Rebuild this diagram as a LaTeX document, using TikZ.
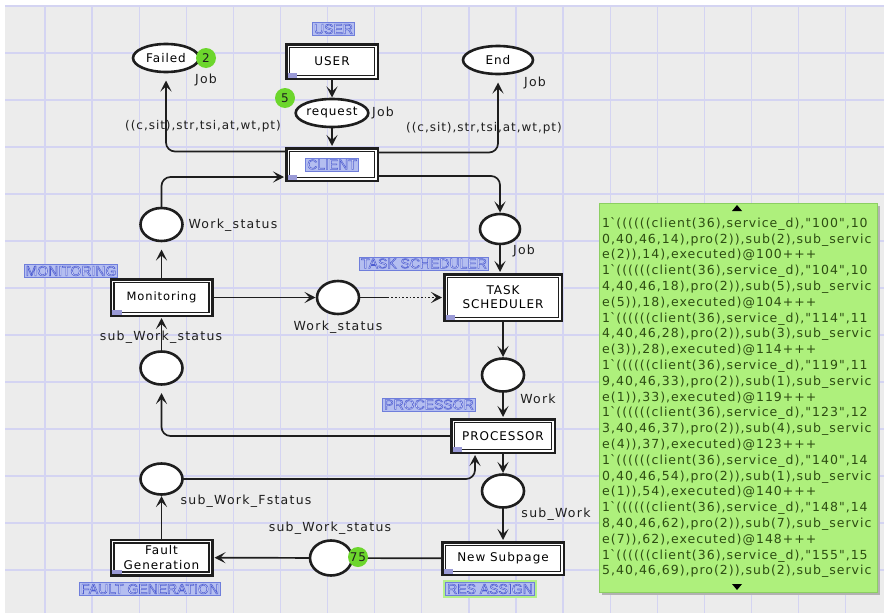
\documentclass[tikz,border=0pt]{standalone}
\usepackage{fontspec}
\usetikzlibrary{shapes.geometric,arrows.meta,calc}
\newfontfamily\cpnfont{DejaVu Sans}[LetterSpace=8]
\newfontfamily\cpnwide{DejaVu Sans}[LetterSpace=10]
\newfontfamily\tagfont{Liberation Sans}
\definecolor{bgc}{HTML}{ECECEC}
\definecolor{gridc}{HTML}{D4D4F2}
\definecolor{tagfill}{HTML}{B4BEF0}
\definecolor{tagdraw}{HTML}{6F7EDB}
\definecolor{tagtext}{HTML}{4B5BD2}
\definecolor{tabc}{HTML}{9A9AD6}
\definecolor{tokc}{HTML}{6CD62C}
\definecolor{listc}{HTML}{AEF07C}
\definecolor{listdraw}{HTML}{8CCF62}
\definecolor{listtext}{HTML}{2D4D12}
\definecolor{glowc}{HTML}{B4F08A}
\definecolor{inkc}{HTML}{1E1E1E}

% outlined tag lettering: light fill, blue stroke
\newcommand\hollowtext[1]{\textcolor{white!85!tagfill}{\special{pdf:literal direct 0.30 0.36 0.82 RG 2 Tr 0.55 w}#1\special{pdf:literal direct 0 Tr}}}

\tikzset{
  cpn/.style={font=\cpnfont\fontsize{12}{14}\selectfont},
  place/.style={ellipse, draw=inkc, line width=2.6pt, fill=white,
    minimum width=42pt, minimum height=33pt, inner sep=0pt, outer sep=0.5pt, cpn},
  trans/.style={rectangle, draw=inkc, line width=1.3pt, fill=white,
    inner sep=0pt, outer sep=4.5pt, align=center, cpn,
    preaction={draw=inkc, line width=9pt},
    preaction={draw=white, line width=4pt}},
  tag/.style={rectangle, draw=tagdraw, line width=0.8pt, fill=tagfill,
    font=\tagfont\fontsize{14}{14}\selectfont, inner xsep=1.5pt, inner ysep=1.5pt},
  token/.style={circle, fill=tokc, minimum size=20pt, inner sep=0pt, cpn, text=inkc},
  lbl/.style={font=\cpnwide\fontsize{12.5}{14}\selectfont, text=inkc, inner sep=0pt},
  expr/.style={cpn, text=inkc, inner sep=0pt},
  arc/.style={draw=inkc, line width=1.7pt, rounded corners=9pt,
    -{Stealth[length=11pt,width=11pt,inset=5pt]}, shorten >=1pt},
  gap/.style={shorten >=8pt},
  plain/.style={draw=inkc, line width=1.7pt},
}

\begin{document}
\begin{tikzpicture}[x=1pt,y=-1pt]
\useasboundingbox (0,0) rectangle (884,613);

% canvas and grid
\fill[white] (0,0) rectangle (884,613);
\fill[bgc] (5,5) rectangle (884,613);
\foreach \i in {0,...,17}
  \draw[gridc, line width=1.3pt] ({45+47.1*\i},5) -- ({45+47.1*\i},613);
\foreach \j in {0,...,12}
  \draw[gridc, line width=1.3pt] (5,{6+47*\j}) -- (884,{6+47*\j});

% places
\node[place, minimum width=66pt, minimum height=28pt] (failed) at (166,58) {Failed};
\node[place, minimum width=70pt, minimum height=28pt] (endp) at (498,60) {End};
\node[place, minimum width=69pt, minimum height=28pt] (request) at (332,113) {request};
\node[place] (ws1) at (161.5,224.5) {};
\node[place] (mid) at (338,297.5) {};
\node[place, minimum width=40pt, minimum height=30pt] (job) at (500,229) {};
\node[place] (work) at (503,375) {};
\node[place] (subwork) at (503,491) {};
\node[place, minimum height=35pt] (sws2) at (331,558) {};
\node[place, minimum height=31pt] (swf) at (161.5,479) {};
\node[place] (sws1) at (161.5,368) {};

% substitution transitions
\node[trans, minimum width=85pt, minimum height=28pt] (user) at (332,61.5) {USER};
\node[trans, minimum width=85pt, minimum height=26pt] (client) at (332,164.5) {};
\node[trans, minimum width=95pt, minimum height=30pt, font=\cpnfont\fontsize{11.5}{13}\selectfont] (mon) at (161.5,297.5) {Monitoring};
\node[trans, minimum width=111pt, minimum height=40pt] (ts) at (503,297.5) {TASK\\SCHEDULER};
\node[trans, minimum width=97pt, minimum height=27pt] (proc) at (503,436) {PROCESSOR};
\node[trans, minimum width=115pt, minimum height=26pt] (newsub) at (503,558.5) {New Subpage};
\node[trans, minimum width=95pt, minimum height=29pt, font=\cpnfont\fontsize{12}{14.5}\selectfont] (fg) at (161.5,557.5) {Fault\\Generation};

% subpage markers in the lower left corners
\foreach \t in {user,client,mon,ts,proc,newsub,fg}
  \fill[tabc] ([shift={(2.5pt,2.5pt)}]\t.south west) rectangle ([shift={(12pt,7pt)}]\t.south west);

% subpage tags
\node[tag] (tuser) at (333.5,29) {\hollowtext{USER}};
\node[tag] (tclient) at (332,164.5) {\hollowtext{CLIENT}};
\node[tag] (tmon) at (71,271) {\hollowtext{MONITORING}};
\node[tag] (tts) at (424,263.5) {\hollowtext{TASK SCHEDULER}};
\node[tag] (tproc) at (429,404.5) {\hollowtext{PROCESSOR}};
\node[tag] (tfg) at (150,589) {\hollowtext{FAULT GENERATION}};
\node[tag, preaction={draw=glowc, line width=6pt}] (tres) at (490,589) {\hollowtext{RES ASSIGN}};

% arcs
\draw[arc] (user) -- (request);
\draw[arc] (request) -- (client);
\draw[arc, gap] ([yshift=13pt]client.west) -| (failed);
\draw[arc, gap] ([yshift=12pt]client.east) -| (endp);
\draw[arc] (ws1) |- ([yshift=-12.5pt]client.west);
\draw[arc] ([yshift=-11.5pt]client.east) -| (job);
\draw[arc] (job) -- (job |- ts.north);
\draw[arc, gap] (mon) -- (ws1);
\draw[arc] (mon) -- (mid);
\coordinate (dotstart) at ($(mid.east)+(28pt,0)$);
\draw[plain] (mid.east) -- (dotstart);
\draw[arc, dotted] (dotstart) -- (ts.west);
\draw[arc] (ts) -- (work);
\draw[arc] (work) -- (proc);
\draw[arc] (proc) -- (subwork);
\draw[arc] (subwork) -- (newsub);
\draw[arc] (newsub) -- (sws2);
\draw[arc] (sws2) -- (fg);
\draw[arc] (fg) -- (swf);
\draw[arc] (swf) -| ([xshift=-28pt]proc.south);
\draw[arc, gap] (proc.west) -| (sws1);
\draw[arc] (sws1) -- (mon);

% arc inscriptions and place colour sets
\node[lbl] (lfailjob) at (206,80.5) {Job};
\node[lbl] (lendjob) at (535,83.5) {Job};
\node[lbl] (lreqjob) at (383,113) {Job};
\node[expr] (lexpl) at (203,126) {((c,sit),str,tsi,at,wt,pt)};
\node[expr] (lexpr) at (484,128) {((c,sit),str,tsi,at,wt,pt)};
\node[lbl] (lws1) at (233,225) {Work\_status};
\node[lbl] (ljob) at (524,251) {Job};
\node[lbl] (lmid) at (338,327) {Work\_status};
\node[lbl] (lsws1) at (161,337) {sub\_Work\_status};
\node[lbl] (lwork) at (538,399) {Work};
\node[lbl] (lswf) at (246,501) {sub\_Work\_Fstatus};
\node[lbl] (lsws2) at (330,528) {sub\_Work\_status};
\node[lbl] (lsubwork) at (556,514) {sub\_Work};

% tokens
\node[token] (tok2) at (206,58) {2};
\node[token] (tok5) at (285,98) {5};
\node[token] (tok75) at (358,557) {75};

% marking of the selected place
\fill[black!30] (602,206) rectangle (880,595);
\draw[listdraw, fill=listc, line width=0.8pt] (599,203) rectangle (877,592);
\fill[black] (732,211) -- (742,211) -- (737,205) -- cycle;
\fill[black] (732,584) -- (742,584) -- (737,590) -- cycle;
\node[anchor=north west, align=left, inner sep=0pt, text=listtext,
      font=\cpnfont\fontsize{12.5}{15.8}\selectfont] (marking) at (602,217) {%
1\textasciigrave((((((client(36),service\_d),"100",10\\
0,40,46,14),pro(2)),sub(2),sub\_servic\\
e(2)),14),executed)@100+++\\
1\textasciigrave((((((client(36),service\_d),"104",10\\
4,40,46,18),pro(2)),sub(5),sub\_servic\\
e(5)),18),executed)@104+++\\
1\textasciigrave((((((client(36),service\_d),"114",11\\
4,40,46,28),pro(2)),sub(3),sub\_servic\\
e(3)),28),executed)@114+++\\
1\textasciigrave((((((client(36),service\_d),"119",11\\
9,40,46,33),pro(2)),sub(1),sub\_servic\\
e(1)),33),executed)@119+++\\
1\textasciigrave((((((client(36),service\_d),"123",12\\
3,40,46,37),pro(2)),sub(4),sub\_servic\\
e(4)),37),executed)@123+++\\
1\textasciigrave((((((client(36),service\_d),"140",14\\
0,40,46,54),pro(2)),sub(1),sub\_servic\\
e(1)),54),executed)@140+++\\
1\textasciigrave((((((client(36),service\_d),"148",14\\
8,40,46,62),pro(2)),sub(7),sub\_servic\\
e(7)),62),executed)@148+++\\
1\textasciigrave((((((client(36),service\_d),"155",15\\
5,40,46,69),pro(2)),sub(2),sub\_servic};
\end{tikzpicture}
\end{document}
